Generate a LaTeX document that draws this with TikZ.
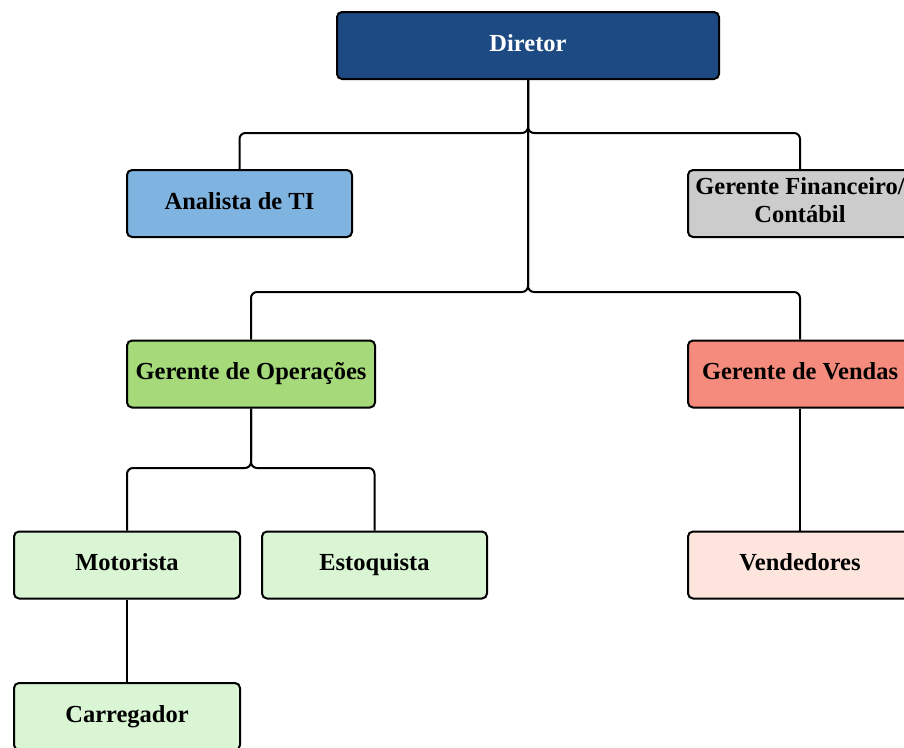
\documentclass[tikz,border=0pt]{standalone}
\usepackage{fontspec}
\setmainfont{Liberation Serif}
\definecolor{cdir}{HTML}{1D4A82}
\definecolor{cana}{HTML}{7FB3E0}
\definecolor{cfin}{HTML}{CCCCCC}
\definecolor{cops}{HTML}{A5D97A}
\definecolor{cven}{HTML}{F58B7C}
\definecolor{clg}{HTML}{D9F5D3}
\definecolor{clp}{HTML}{FDE5DD}
\begin{document}
\begin{tikzpicture}[x=1pt,y=-1pt,
  box/.style={draw=black, line width=2pt, rounded corners=5pt, minimum height=67pt,
    inner sep=0pt, align=center, text height=17pt, text depth=6pt,
    font=\fontsize{24.5}{28}\selectfont\bfseries},
  conn/.style={draw=black, line width=2pt, rounded corners=6pt}]
\useasboundingbox (0,0) rectangle (904,747);
\clip (0,0) rectangle (904,747);
\fill[white] (0,0) rectangle (904,747);
\node[box, fill=cdir, text=white, minimum width=382pt] (dir) at (528,45.5) {Diretor};
\node[box, fill=cana, minimum width=225pt] (ana) at (239.5,203.5) {Analista de TI};
\node[box, fill=cfin, minimum width=224pt, text height=45pt, text depth=6.5pt] (fin) at (800,203.5) {Gerente Financeiro/\\Contábil};
\node[box, fill=cops, minimum width=248pt] (ops) at (251,374) {Gerente de Operações};
\node[box, fill=cven, minimum width=224pt] (ven) at (800,374) {Gerente de Vendas};
\node[box, fill=clg, minimum width=226pt] (mot) at (127,565) {Motorista};
\node[box, fill=clg, minimum width=225pt] (est) at (374.5,565) {Estoquista};
\node[box, fill=clp, minimum width=224pt] (vde) at (800,565) {Vendedores};
\node[box, fill=clg, minimum width=226pt] (car) at (127,716.5) {Carregador};
\coordinate (j1) at (528,133);
\coordinate (j2) at (528,292);
\coordinate (j3) at (251,468);
\draw[conn] (dir.south) -- (j1) -| (ana.north);
\draw[conn] (dir.south) -- (j1) -| (fin.north);
\draw[conn] (dir.south) -- (j2) -| (ops.north);
\draw[conn] (dir.south) -- (j2) -| (ven.north);
\draw[conn] (ops.south) -- (j3) -| (mot.north);
\draw[conn] (ops.south) -- (j3) -| (est.north);
\draw[conn] (ven.south) -- (vde.north);
\draw[conn] (mot.south) -- (car.north);
\end{tikzpicture}
\end{document}
